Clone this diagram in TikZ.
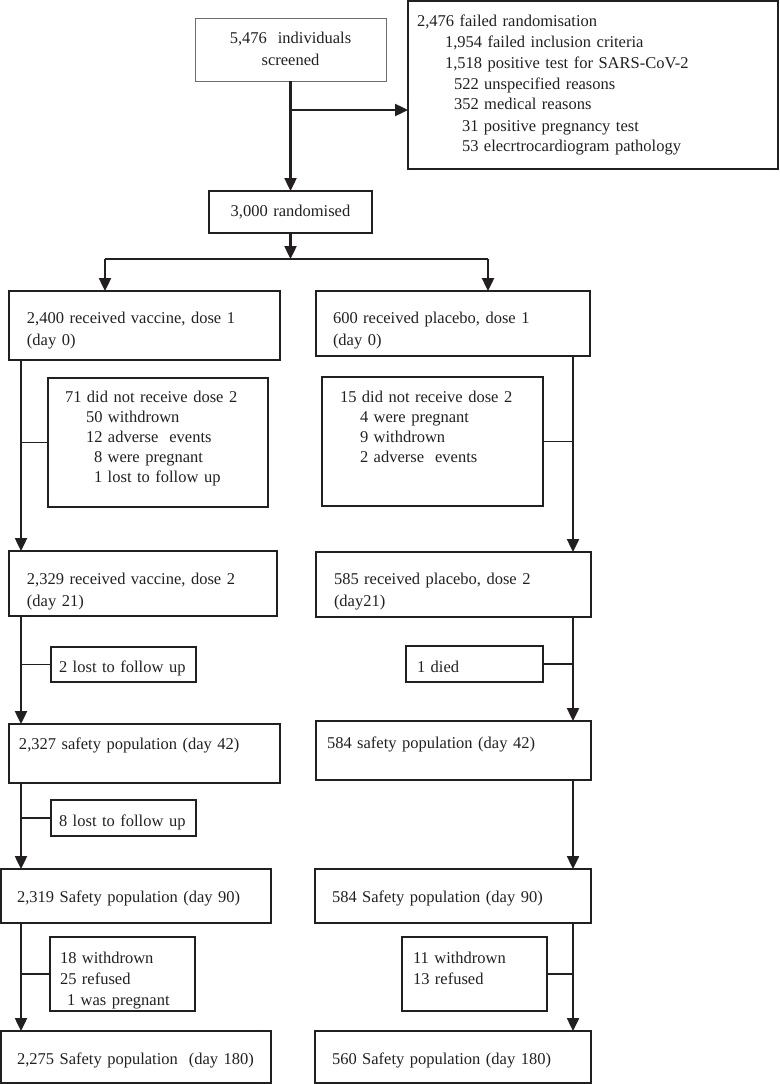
\documentclass[tikz,border=0pt]{standalone}
\usepackage{fontspec}
\setmainfont{Liberation Serif}
\usetikzlibrary{arrows.meta}
\definecolor{ink}{HTML}{231F20}
\definecolor{lightink}{HTML}{6D6D6D}

\begin{document}
\begin{tikzpicture}[x=1pt, y=-1pt, >={Triangle[width=12pt,length=13pt]},
	box/.style={draw=ink, line width=1.4pt, anchor=north west, outer sep=0pt, inner ysep=0pt,
		align=left, text=ink, text height=12pt, font=\fontsize{16.5}{20}\selectfont},
	dims/.style n args={4}{inner xsep=#1pt, text width=#2pt, minimum height=#3pt, text depth=#4pt},
	lead/.style={font=\fontsize{16.5}{#1}\selectfont},
	flow/.style={->, draw=ink, fill=ink, line width=2.4pt},
	side/.style={draw=ink, line width=1.1pt}]

	\useasboundingbox (0,0) rectangle (779,1084);

	% screening and randomisation
	\node[box, dims={5}{181}{63}{25}, lead=22, align=center, draw=lightink, line width=0.9pt] (scr) at (195,18) {5,476\ \ individuals\\screened};
	\node[box, dims={9}{352}{168}{130}, lead=21] (fail) at (408,1) {2,476 failed randomisation\\
		\hspace*{28pt}1,954 failed inclusion criteria\\
		\hspace*{28pt}1,518 positive test for SARS-CoV-2\\
		\hspace*{37pt}522 unspecified reasons\\
		\hspace*{37pt}352 medical reasons\\
		\hspace*{45pt}31 positive pregnancy test\\
		\hspace*{45pt}53 elecrtrocardiogram pathology};
	\node[box, dims={5}{153}{42}{4}, align=center, line width=1.7pt] (rand) at (209,191) {3,000 randomised};

	% vaccine arm
	\node[box, dims={18}{235}{69}{17}, lead=22] (v1) at (9,291) {2,400 received vaccine, dose 1\\(day 0)};
	\node[box, dims={17}{186}{129}{93}] (vx1) at (48,378) {71 did not receive dose 2\\
		\hspace*{21pt}50 withdrown\\
		\hspace*{21pt}12 adverse\ \ events\\
		\hspace*{29pt}8 were pregnant\\
		\hspace*{29pt}1 lost to follow up};
	\node[box, dims={18}{232}{65}{11}, lead=22] (v2) at (9,551) {2,329 received vaccine, dose 2\\(day 21)};
	\node[box, dims={8}{129}{35}{0}, text height=16pt] (vx2) at (51,647) {2 lost to follow up};
	\node[box, dims={10}{251}{59}{21}] (v42) at (9,724) {2,327 safety population (day 42)};
	\node[box, dims={8}{129}{36}{0}, text height=16pt] (vx3) at (51,800) {8 lost to follow up};
	\node[box, dims={16}{238}{54}{2}, text height=14pt] (v90) at (1,869) {2,319 Safety population (day 90)};
	\node[box, dims={10}{125}{74}{34}, lead=21] (vx4) at (50,937) {18 withdrown\\25 refused\\\hspace*{7pt}1 was pregnant};
	\node[box, dims={16}{238}{52}{0}, text height=14pt] (v180) at (1,1031) {2,275 Safety population\ \ (day 180)};

	% placebo arm
	\node[box, dims={17}{240}{65}{13}, lead=22] (p1) at (316,291) {600 received placebo, dose 1\\(day 0)};
	\node[box, dims={18}{185}{129}{91}] (px1) at (322,377) {15 did not receive dose 2\\
		\hspace*{20pt}4 were pregnant\\
		\hspace*{20pt}9 withdrown\\
		\hspace*{20pt}2 adverse\ \ events};
	\node[box, dims={18}{239}{65}{13}, lead=22] (p2) at (316,552) {585 received placebo, dose 2\\(day21)};
	\node[box, dims={11}{115}{36}{0}, text height=16pt] (px2) at (406,646) {1 died};
	\node[box, dims={11}{253}{59}{17}] (p42) at (316,721) {584 safety population (day 42)};
	\node[box, dims={17}{242}{54}{2}, text height=14pt] (p90) at (315,869) {584 Safety population (day 90)};
	\node[box, dims={11}{123}{74}{34}, lead=21] (px4) at (402,937) {11 withdrown\\13 refused};
	\node[box, dims={17}{242}{52}{0}, text height=14pt] (p180) at (315,1031) {560 Safety population (day 180)};

	\coordinate (brk) at (290.5,110);
	\coordinate (split) at (290.5,259);
	\coordinate (sl) at (105,259);
	\coordinate (sr) at (488,259);
	\coordinate (lx) at (21,0);
	\coordinate (rx) at (573,0);

	% main flow
	\draw[flow] (scr.south) -- (rand.north);
	\draw[flow] (brk) -- (brk -| fail.west);
	\draw[flow] (rand.south) -- (split);
	\draw[side] (sl) -- (sr);
	\draw[flow] (sl) -- (sl |- v1.north);
	\draw[flow] (sr) -- (sr |- p1.north);
	\draw[flow] (lx |- v1.south) -- (lx |- v2.north);
	\draw[flow] (lx |- v2.south) -- (lx |- v42.north);
	\draw[flow] (lx |- v42.south) -- (lx |- v90.north);
	\draw[flow] (lx |- v90.south) -- (lx |- v180.north);
	\draw[flow] (rx |- p1.south) -- (rx |- p2.north);
	\draw[flow] (rx |- p2.south) -- (rx |- p42.north);
	\draw[flow] (rx |- p42.south) -- (rx |- p90.north);
	\draw[flow] (rx |- p90.south) -- (rx |- p180.north);

	% exclusions
	\draw[side] (lx |- vx1.west) -- (vx1.west);
	\draw[side] (lx |- vx2.west) -- (vx2.west);
	\draw[side] (lx |- vx3.west) -- (vx3.west);
	\draw[side] (lx |- vx4.west) -- (vx4.west);
	\draw[side] (rx |- px1.east) -- (px1.east);
	\draw[side] (rx |- px2.east) -- (px2.east);
	\draw[side] (rx |- px4.east) -- (px4.east);
\end{tikzpicture}
\end{document}
